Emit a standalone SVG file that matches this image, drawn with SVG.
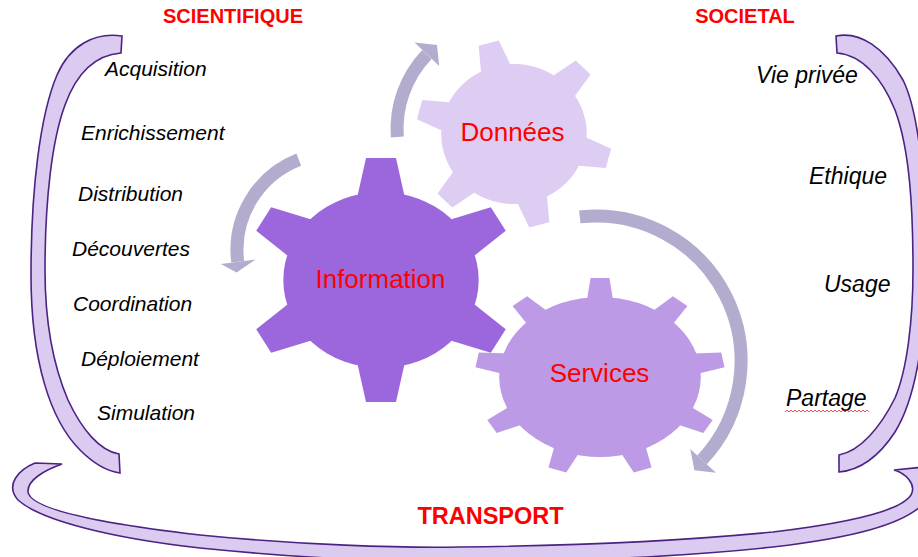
<svg xmlns="http://www.w3.org/2000/svg" xmlns:xlink="http://www.w3.org/1999/xlink" width="918" height="557" viewBox="0 0 918 557">
<style>
.band{fill:#DCCBF0;stroke:#4B2382;stroke-width:1.6;stroke-linejoin:miter}
.garc{fill:none;stroke:#B4ACCF;stroke-width:13}
.ghead{fill:#B4ACCF}
.lst{font-family:"Liberation Sans",Arial,sans-serif;font-style:italic;font-size:21px;fill:#000}
.rst{font-family:"Liberation Sans",Arial,sans-serif;font-style:italic;font-size:23px;fill:#000}
.ttl{font-family:"Liberation Sans",Arial,sans-serif;font-weight:bold;font-size:20px;fill:#FF0000;text-anchor:middle}
.glabel{font-family:"Liberation Sans",Arial,sans-serif;font-size:26px;fill:#FF0000;text-anchor:middle}
</style>
<defs>
<polygon id="toothInfo" points="-22,-80 -13.5,-122 13.5,-122 22,-80"/>
<polygon id="toothDon" points="-16,-60 -10,-94 10,-94 16,-60"/>
<polygon id="toothSrv" points="-11,-72 -7.5,-99 7.5,-99 11,-72"/>
</defs>
<rect width="918" height="557" fill="#fff"/>

<g id="frame-scientifique">
<path class="band" d="M122,36 C95,32 70,45 57,75 C40,115 31,190 31,275 C31,360 50,420 80,450 C93,463 105,471 120,473 L119,454 C100,451 82,430 68,400 C53,365 45,320 45,270 C45,200 52,140 65,105 C77,72 95,55 121,53 Z"/>
<text class="ttl" x="233" y="23">SCIENTIFIQUE</text>
<text class="lst" x="105" y="76">Acquisition</text>
<text class="lst" x="81" y="140">Enrichissement</text>
<text class="lst" x="78" y="201">Distribution</text>
<text class="lst" x="72" y="256">Découvertes</text>
<text class="lst" x="73" y="311">Coordination</text>
<text class="lst" x="81" y="366">Déploiement</text>
<text class="lst" x="97" y="420">Simulation</text>
</g>

<g id="frame-societal">
<path class="band" d="M836,36 C860,31 885,48 903,80 C918,110 926,180 926,260 C926,340 915,400 895,432 C880,455 862,470 839,472 L839,455 C860,451 880,428 895,398 C907,370 913,320 913,270 C913,210 910,150 895,110 C882,78 862,55 837,53 Z"/>
<text class="ttl" x="745" y="23">SOCIETAL</text>
<text class="rst" x="756" y="83">Vie privée</text>
<text class="rst" x="809" y="184">Ethique</text>
<text class="rst" x="824" y="292">Usage</text>
<text class="rst" x="786" y="406">Partage</text>
<path d="M785,412 l2,-2 l2,2 l2,-2 l2,2 l2,-2 l2,2 l2,-2 l2,2 l2,-2 l2,2 l2,-2 l2,2 l2,-2 l2,2 l2,-2 l2,2 l2,-2 l2,2 l2,-2 l2,2 l2,-2 l2,2 l2,-2 l2,2 l2,-2 l2,2 l2,-2 l2,2 l2,-2 l2,2 l2,-2 l2,2 l2,-2 l2,2 l2,-2 l2,2 l2,-2 l2,2 l2,-2 l2,2 l2,-2 l2,2" fill="none" stroke="#E03030" stroke-width="0.8"/>
</g>

<g id="frame-transport">
<path class="band" d="M35,463 L62,464 C45,470 27,480 28,492 C30,505 70,520 200,535 C300,545 400,548 460,547 C560,546 680,541 773,532 C840,524 900,512 911,495 C917,484 905,473 894,470 L925,467 L925,502 C905,525 850,538 773,547 C680,557 560,562 460,562 C360,562 280,556 200,548 C110,538 40,520 18,500 C5,485 18,470 35,463 Z"/>
<text class="ttl" x="490.5" y="524" style="font-size:23.5px">TRANSPORT</text>
</g>

<g id="connectors">
<path class="garc" d="M397.3,136.9 A108,108 0 0 1 426.9,54.4"/>
<polygon class="ghead" points="439.2,66.1 414.6,42.6 437,45.1"/>
<path class="garc" d="M298.8,159.6 A97,97 0 0 0 237.7,261.8"/>
<polygon class="ghead" points="255.6,259.6 220.9,263.9 236.6,272.5"/>
<path class="garc" d="M579.8,216.9 A145,145 0 0 1 702.1,459.9"/>
<polygon class="ghead" points="690.3,449 716,472.8 694.4,470.2"/>
</g>

<g id="donnees">
<g transform="translate(514,134) scale(1.04,1)" fill="#DECDF2">
<circle r="70"/>
<use xlink:href="#toothDon" transform="rotate(-15)"/>
<use xlink:href="#toothDon" transform="rotate(45)"/>
<use xlink:href="#toothDon" transform="rotate(105)"/>
<use xlink:href="#toothDon" transform="rotate(165)"/>
<use xlink:href="#toothDon" transform="rotate(225)"/>
<use xlink:href="#toothDon" transform="rotate(285)"/>
</g>
<text class="glabel" x="512.5" y="141">Données</text>
</g>

<g id="information">
<g transform="translate(381,280) scale(1.11,1)" fill="#9C67DC">
<circle r="88"/>
<use xlink:href="#toothInfo"/>
<use xlink:href="#toothInfo" transform="rotate(60)"/>
<use xlink:href="#toothInfo" transform="rotate(120)"/>
<use xlink:href="#toothInfo" transform="rotate(180)"/>
<use xlink:href="#toothInfo" transform="rotate(240)"/>
<use xlink:href="#toothInfo" transform="rotate(300)"/>
</g>
<text class="glabel" x="380.5" y="288">Information</text>
</g>

<g id="services">
<g transform="translate(600,377) scale(1.26,1)" fill="#BD9AE6">
<circle r="80"/>
<use xlink:href="#toothSrv"/>
<use xlink:href="#toothSrv" transform="rotate(40)"/>
<use xlink:href="#toothSrv" transform="rotate(80)"/>
<use xlink:href="#toothSrv" transform="rotate(120)"/>
<use xlink:href="#toothSrv" transform="rotate(160)"/>
<use xlink:href="#toothSrv" transform="rotate(200)"/>
<use xlink:href="#toothSrv" transform="rotate(240)"/>
<use xlink:href="#toothSrv" transform="rotate(280)"/>
<use xlink:href="#toothSrv" transform="rotate(320)"/>
</g>
<text class="glabel" x="599.5" y="382">Services</text>
</g>
</svg>
